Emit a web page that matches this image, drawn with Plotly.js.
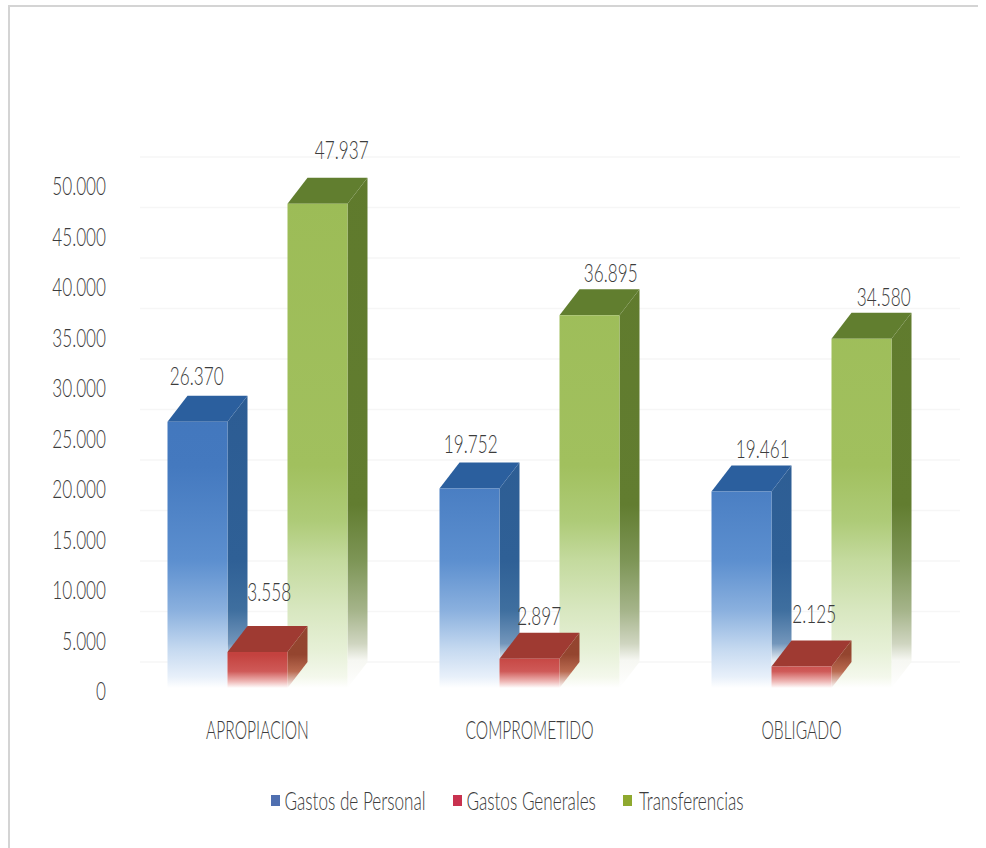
<!DOCTYPE html>
<html>
<head>
<meta charset="utf-8">
<script src="https://cdn.plot.ly/plotly-3.0.1.min.js"></script>
<style>html,body{margin:0;padding:0;background:#fff}#chart{width:986px;height:848px}</style>
</head>
<body>
<div id="chart"></div>
<script>
// Budget execution by stage and expense type
const categories = ['APROPIACION', 'COMPROMETIDO', 'OBLIGADO'];
const personal = [26370, 19752, 19461];
const generales = [3558, 2897, 2125];
const transferencias = [47937, 36895, 34580];
const tickValues = [0, 5000, 10000, 15000, 20000, 25000, 30000, 35000, 40000, 45000, 50000];

// Drawing geometry of the extruded bars, in axis units
const W = 986, H = 848;
const plot = {l: 110, r: 26, t: 100, b: 160};
const pxPerCat = 272, pxPerUnit = 0.0101;
const barW = 60 / pxPerCat;
const depthX = 20 / pxPerCat;
const depthY = 26 / pxPerUnit;
const xRange = [(plot.l - 257.5) / pxPerCat, (W - plot.r - 257.5) / pxPerCat];
const yRange = [0, (H - plot.b - plot.t) / pxPerUnit];

const fmt = v => String(v).replace(/\B(?=(\d{3})+$)/g, '.');

function face(xs, ys, stops, top) {
  return {
    x: xs.concat(xs[0]), y: ys.concat(ys[0]),
    type: 'scatter', mode: 'lines', fill: 'toself',
    line: {width: 0}, showlegend: false, hoverinfo: 'skip',
    fillgradient: {type: 'vertical', start: 0, stop: top, colorscale: stops}
  };
}

// Every bar is three faces: front, right side and top
function bars(values, offset, style) {
  const out = [];
  values.forEach((v, i) => {
    const x0 = i + offset * barW - barW / 2, x1 = x0 + barW;
    out.push(face([x1, x1 + depthX, x1 + depthX, x1], [0, depthY, v + depthY, v], style.side, 55000));
    out.push(face([x0, x1, x1 + depthX, x0 + depthX], [v, v, v + depthY, v + depthY], [[0, style.top], [1, style.top]], v + depthY));
    out.push(face([x0, x1, x1, x0], [0, 0, v, v], style.front, 55000));
  });
  return out;
}

const blue = {
  top: '#2b5f9e',
  front: [[0, '#ffffff'], [0.02, '#e8f0fa'], [0.07, '#c5d9f0'], [0.14, '#8ab0de'], [0.23, '#5c8fcf'], [0.4, '#4479bf'], [1, '#3b6fb5']],
  side: [[0, '#ffffff'], [0.05, '#e6edf4'], [0.08, '#7396bb'], [0.14, '#3f6f9f'], [0.23, '#2f6096'], [1, '#28568f']]
};
const red = {
  top: '#9f3a32',
  front: [[0, '#ffffff'], [0.012, '#eeb6b4'], [0.03, '#cf5a58'], [0.06, '#c4423f'], [1, '#c4423f']],
  side: [[0, '#ffffff'], [0.03, '#b96a50'], [0.06, '#94452f'], [1, '#8e402c']]
};
const green = {
  top: '#617e2f',
  front: [[0, '#ffffff'], [0.02, '#f4f8ec'], [0.07, '#e6f0d6'], [0.14, '#d8e7c0'], [0.23, '#c4da9e'], [0.3, '#aecb78'], [0.4, '#a1c05e'], [1, '#9bbb55']],
  side: [[0, '#ffffff'], [0.05, '#f6f7f2'], [0.08, '#cfd5c0'], [0.14, '#a5b48a'], [0.23, '#7d9556'], [0.33, '#627d30'], [1, '#5f7a2c']]
};

const traces = [].concat(
  bars(personal, -1, blue),
  bars(transferencias, 1, green),
  bars(generales, 0, red)
);

// Faint gridlines sit on the back wall, one depth step behind the bars
const gridShapes = tickValues.map(v => ({
  type: 'line', layer: 'below', xref: 'x', yref: 'y',
  x0: (140 - 257.5) / pxPerCat, x1: xRange[1], y0: v + depthY, y1: v + depthY,
  line: {color: '#f6f6f6', width: 1.5}
}));

const px = x => (x - plot.l) / (W - plot.l - plot.r);
const py = y => 1 - (y - plot.t) / (H - plot.t - plot.b);

// Frame along the upper and left edges
const frame = [
  {type: 'line', xref: 'paper', yref: 'paper', x0: px(8), x1: px(978), y0: py(6), y1: py(6), line: {color: '#d4d4d4', width: 2}},
  {type: 'line', xref: 'paper', yref: 'paper', x0: px(9), x1: px(9), y0: py(6), y1: py(848), line: {color: '#d4d4d4', width: 2}}
];

// Legend row
const legendNames = ['Gastos de Personal', 'Gastos Generales', 'Transferencias'];
const legendColors = ['#4f6fb0', '#c8324f', '#8fa92f'];
const legendSwatchX = [271, 453, 623];
const legendTextCenterX = [355, 531, 691];
const legendY = 800;
const legendShapes = legendNames.map((n, i) => ({
  type: 'rect', xref: 'paper', yref: 'paper', line: {width: 0}, fillcolor: legendColors[i],
  x0: px(legendSwatchX[i]), x1: px(legendSwatchX[i] + 9), y0: py(legendY - 5), y1: py(legendY + 6)
}));
const textFont = {family: 'Lato, "Open Sans", sans-serif', size: 26, weight: 300, color: '#3c3c3c'};
const legendNotes = legendNames.map((n, i) => ({
  text: n, xref: 'paper', yref: 'paper', x: px(legendTextCenterX[i]), y: py(legendY),
  xanchor: 'center', yanchor: 'middle', showarrow: false, font: textFont
}));

// Value labels, nudged from the top of the front face (series by category)
const labelNudgeX = [[-1.5, 0.5, 20.5], [11.5, 9.5, 12.5], [23.5, 20.5, 21.5]];
const labelNudgeY = [[47, 45.5, 43.5], [61, 44, 53.5], [55, 43, 43]];
const valueNotes = [];
[personal, generales, transferencias].forEach((vals, s) => {
  vals.forEach((v, i) => {
    valueNotes.push({
      text: fmt(v), x: i + (s - 1) * barW, y: v, xref: 'x', yref: 'y',
      xanchor: 'center', yanchor: 'middle', showarrow: false, font: textFont,
      xshift: labelNudgeX[s][i], yshift: labelNudgeY[s][i]
    });
  });
});

const layout = {
  width: W, height: H, margin: plot,
  paper_bgcolor: '#ffffff', plot_bgcolor: 'rgba(0,0,0,0)',
  separators: ',.', showlegend: false,
  xaxis: {
    type: 'linear', range: xRange, tickmode: 'array', tickvals: [0, 1, 2], ticktext: categories,
    showgrid: false, zeroline: false, showline: false, ticks: '', ticklabelstandoff: 24,
    tickfont: textFont
  },
  yaxis: {
    range: yRange, tickmode: 'array', tickvals: tickValues, tickformat: ',d',
    showgrid: false, zeroline: false, showline: false, ticks: '', ticklabelshift: 3, ticklabelstandoff: 3,
    tickfont: textFont
  },
  shapes: gridShapes.concat(frame, legendShapes),
  annotations: valueNotes.concat(legendNotes)
};

// The chart's lettering is tall and condensed: narrow each text run about its anchor
function condenseText(root) {
  const squeeze = (selector, k) => root.querySelectorAll(selector).forEach(t => {
    const ax = parseFloat(t.getAttribute('x')) || 0;
    const base = t.getAttribute('transform') || '';
    t.setAttribute('transform', `${base} translate(${ax},0) scale(${k},1) translate(${-ax},0)`);
  });
  squeeze('.xtick text', 0.6);
  squeeze('.ytick text, text.annotation-text', 0.66);
}

Plotly.newPlot('chart', traces, layout, {displayModeBar: false, staticPlot: true})
  .then(gd => { condenseText(gd); });
</script>
</body>
</html>
